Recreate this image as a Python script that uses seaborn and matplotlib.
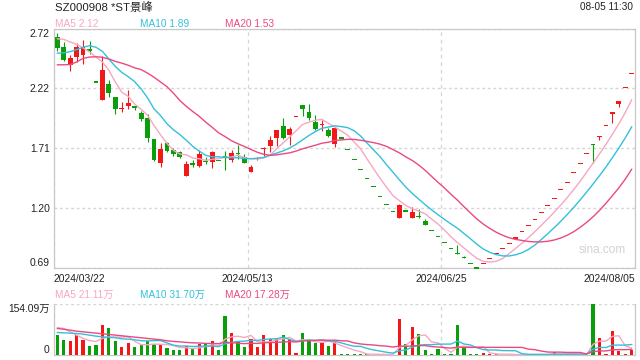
import numpy as np
import pandas as pd
import matplotlib
matplotlib.use("Agg")
import matplotlib.pyplot as plt
import seaborn as sns

# ---- data (90 trading days) ----
date_labels = ['2024/03/22', '2024/05/13', '2024/06/25', '2024/08/05']
price_ticks = [0.69, 1.20, 1.71, 2.22, 2.72]
vol_top = 154.09

opens = [2.655, 2.566, 2.416, 2.482, 2.497, 2.554, 2.27, 2.119, 2.257, 2.145,
         2.045, 2.064, 2.067, 2.007, 1.96, 1.782, 1.583, 1.753, 1.695, 1.673,
         1.471, 1.583, 1.56, 1.598, 1.592, 1.608, 1.638, 1.609, 1.667, 1.63,
         1.505, 1.615, 1.70, 1.725, 1.794, 1.897, 1.817, 1.975, 2.076, 2.013,
         1.926, 1.905, 1.86, 1.745, 1.794, 1.699, 1.612, 1.526, 1.448, 1.379,
         1.301, 1.232, 1.172, 1.116, 1.176, 1.116, 1.133, 1.088, 1.007, 0.955,
         0.904, 0.852, 0.82, 0.781, 0.731, 0.69, 0.725, 0.774, 0.815, 0.852,
         0.895, 0.945, 0.998, 1.052, 1.105, 1.164, 1.221, 1.282, 1.355, 1.42,
         1.50, 1.578, 1.664, 1.745, 1.80, 1.903, 2.0, 2.082, 2.226, 2.341]
highs = [2.684, 2.61, 2.497, 2.60, 2.626, 2.618, 2.27, 2.49, 2.289, 2.145,
         2.10, 2.203, 2.07, 2.027, 1.996, 1.782, 1.753, 1.76, 1.713, 1.684,
         1.603, 1.609, 1.69, 1.63, 1.687, 1.608, 1.687, 1.693, 1.736, 1.658,
         1.563, 1.63, 1.716, 1.808, 1.86, 1.961, 1.889, 1.975, 2.076, 2.082,
         1.989, 1.946, 1.88, 1.889, 1.794, 1.699, 1.612, 1.526, 1.448, 1.379,
         1.301, 1.232, 1.172, 1.234, 1.176, 1.211, 1.189, 1.102, 1.007, 0.955,
         0.904, 0.852, 0.889, 0.79, 0.731, 0.69, 0.725, 0.774, 0.815, 0.852,
         0.895, 0.945, 0.998, 1.052, 1.105, 1.164, 1.221, 1.282, 1.355, 1.42,
         1.50, 1.578, 1.664, 1.745, 1.815, 1.903, 2.012, 2.11, 2.226, 2.341]
lows = [2.534, 2.45, 2.36, 2.44, 2.425, 2.511, 2.27, 2.116, 2.145, 2.00,
        2.013, 2.041, 2.03, 1.94, 1.76, 1.603, 1.552, 1.675, 1.644, 1.626,
        1.469, 1.544, 1.544, 1.572, 1.543, 1.604, 1.523, 1.59, 1.615, 1.58,
        1.505, 1.61, 1.644, 1.673, 1.725, 1.788, 1.736, 1.975, 1.984, 1.946,
        1.86, 1.851, 1.80, 1.716, 1.794, 1.699, 1.612, 1.526, 1.448, 1.379,
        1.301, 1.232, 1.172, 1.116, 1.172, 1.116, 1.111, 1.059, 1.007, 0.955,
        0.904, 0.852, 0.812, 0.776, 0.731, 0.69, 0.725, 0.774, 0.815, 0.852,
        0.895, 0.945, 0.998, 1.052, 1.105, 1.164, 1.221, 1.282, 1.355, 1.42,
        1.50, 1.578, 1.664, 1.586, 1.773, 1.903, 1.923, 2.056, 2.226, 2.341]
closes = [2.56, 2.456, 2.473, 2.566, 2.566, 2.534, 2.27, 2.376, 2.179, 2.041,
          2.049, 2.093, 2.05, 1.955, 1.79, 1.609, 1.704, 1.684, 1.661, 1.632,
          1.574, 1.569, 1.655, 1.588, 1.678, 1.604, 1.63, 1.667, 1.658, 1.58,
          1.549, 1.625, 1.712, 1.773, 1.86, 1.794, 1.874, 1.975, 2.041, 1.961,
          1.874, 1.91, 1.808, 1.88, 1.794, 1.699, 1.612, 1.526, 1.448, 1.379,
          1.301, 1.232, 1.172, 1.226, 1.172, 1.166, 1.128, 1.059, 1.007, 0.955,
          0.904, 0.852, 0.814, 0.777, 0.731, 0.69, 0.725, 0.774, 0.815, 0.852,
          0.895, 0.945, 0.998, 1.052, 1.105, 1.164, 1.221, 1.282, 1.355, 1.42,
          1.50, 1.578, 1.664, 1.738, 1.815, 1.903, 2.012, 2.105, 2.226, 2.341]

ma5 = [2.637, 2.632, 2.61, 2.59, 2.56, 2.525, 2.482, 2.44, 2.37, 2.27,
       2.183, 2.148, 2.082, 2.038, 1.987, 1.899, 1.822, 1.748, 1.69, 1.658,
       1.651, 1.624, 1.618, 1.604, 1.613, 1.619, 1.631, 1.633, 1.647, 1.628,
       1.617, 1.616, 1.625, 1.648, 1.704, 1.753, 1.803, 1.855, 1.909, 1.929,
       1.945, 1.952, 1.919, 1.887, 1.853, 1.818, 1.759, 1.702, 1.616, 1.533,
       1.453, 1.377, 1.306, 1.262, 1.221, 1.194, 1.173, 1.15, 1.106, 1.063,
       1.011, 0.955, 0.906, 0.86, 0.815, 0.772, 0.747, 0.74, 0.747, 0.771,
       0.812, 0.856, 0.901, 0.948, 0.999, 1.053, 1.108, 1.165, 1.225, 1.288,
       1.356, 1.427, 1.503, 1.58, 1.659, 1.74, 1.826, 1.915, 2.012, 2.12]
ma10 = [2.514, 2.518, 2.527, 2.545, 2.565, 2.578, 2.565, 2.53, 2.465, 2.402,
        2.351, 2.315, 2.272, 2.211, 2.134, 2.041, 1.985, 1.915, 1.864, 1.823,
        1.775, 1.723, 1.683, 1.647, 1.635, 1.635, 1.628, 1.626, 1.626, 1.62,
        1.618, 1.623, 1.629, 1.648, 1.666, 1.685, 1.709, 1.74, 1.778, 1.816,
        1.849, 1.877, 1.887, 1.898, 1.891, 1.882, 1.855, 1.811, 1.751, 1.693,
        1.636, 1.568, 1.504, 1.439, 1.377, 1.323, 1.275, 1.228, 1.184, 1.142,
        1.102, 1.064, 1.028, 0.983, 0.939, 0.892, 0.851, 0.823, 0.804, 0.793,
        0.792, 0.802, 0.82, 0.848, 0.885, 0.933, 0.982, 1.033, 1.087, 1.144,
        1.204, 1.268, 1.334, 1.403, 1.474, 1.548, 1.627, 1.709, 1.796, 1.89]
ma20 = [2.416, 2.416, 2.418, 2.44, 2.47, 2.482, 2.484, 2.48, 2.465, 2.445,
        2.43, 2.412, 2.39, 2.375, 2.345, 2.31, 2.27, 2.23, 2.175, 2.112,
        2.063, 2.019, 1.978, 1.929, 1.885, 1.838, 1.806, 1.771, 1.745, 1.722,
        1.697, 1.673, 1.656, 1.647, 1.651, 1.66, 1.668, 1.683, 1.702, 1.718,
        1.733, 1.75, 1.758, 1.773, 1.778, 1.783, 1.782, 1.775, 1.765, 1.755,
        1.742, 1.723, 1.696, 1.668, 1.634, 1.603, 1.565, 1.519, 1.468, 1.417,
        1.369, 1.316, 1.266, 1.211, 1.158, 1.107, 1.063, 1.026, 0.994, 0.968,
        0.947, 0.933, 0.924, 0.915, 0.912, 0.912, 0.917, 0.928, 0.945, 0.968,
        0.998, 1.035, 1.077, 1.125, 1.179, 1.24, 1.304, 1.371, 1.445, 1.53]

volume = [60.2, 44.9, 41.9, 60.2, 44.9, 26.6, 29.7, 90.8, 82.5, 41.9,
          23.5, 36.7, 23.5, 29.7, 41.9, 32.7, 32.7, 20.5, 14.4, 14.4,
          26.6, 20.5, 32.7, 32.7, 41.9, 14.4, 118.3, 66.3, 41.9, 23.5,
          47.0, 23.5, 60.2, 47.0, 51.0, 60.2, 47.0, 6.1, 66.3, 44.9,
          35.8, 36.7, 26.6, 39.7, 3.0, 3.0, 2.0, 3.0, 2.0, 1.5,
          1.5, 1.0, 1.0, 109.0, 32.7, 84.6, 63.3, 14.4, 3.0, 17.4,
          3.0, 3.0, 90.8, 20.5, 3.0, 3.0, 5.0, 2.0, 2.0, 1.0,
          1.0, 1.0, 1.0, 1.0, 1.5, 2.0, 2.0, 10.0, 1.5, 2.0,
          2.0, 1.5, 1.5, 154.09, 50.0, 3.0, 72.4, 11.3, 2.0, 16.5]
vol_ma5 = [83, 80, 70, 60, 50.4, 43.7, 40.7, 50.4, 54.9, 54.3,
           53.7, 55.1, 41.6, 31.1, 31.1, 32.9, 32.1, 31.5, 28.4, 22.9,
           21.7, 19.3, 21.7, 25.4, 30.9, 28.4, 48, 54.7, 56.6, 52.9,
           59.4, 40.4, 39.2, 40.2, 45.7, 48.4, 53.1, 42.3, 46.1, 44.9,
           40, 38, 42.1, 36.7, 28.4, 21.8, 14.9, 10.1, 2.6, 2.3,
           2, 1.8, 1.4, 22.8, 29, 45.7, 58.1, 60.8, 39.6, 36.5,
           20.2, 8.2, 23.4, 26.9, 24.1, 24.1, 24.5, 6.7, 3, 2.6,
           2.2, 1.4, 1.2, 1, 1.1, 1.3, 1.5, 3.3, 3.4, 3.5,
           3.5, 3.4, 1.7, 32.2, 41.8, 42, 56.2, 58.2, 27.7, 21.11]
vol_ma10 = [68, 67, 66, 65, 63, 60, 57, 55, 53, 52.4,
            48.7, 47.9, 46, 43, 42.7, 43.3, 43.6, 36.6, 29.8, 27,
            27.3, 25.7, 26.6, 26.9, 26.9, 25.1, 33.6, 38.2, 41, 41.9,
            43.9, 44.2, 47, 48.4, 49.3, 53.9, 46.8, 40.7, 43.2, 45.3,
            44.2, 45.5, 42.2, 41.4, 36.6, 30.9, 26.4, 26.1, 19.7, 15.3,
            11.9, 8.3, 5.8, 12.7, 15.7, 23.8, 30, 31.1, 31.2, 32.8,
            32.9, 33.1, 42.1, 33.3, 30.3, 22.1, 16.3, 15.1, 15, 13.3,
            13.1, 12.9, 4, 2, 1.9, 1.8, 1.5, 2.3, 2.2, 2.3,
            2.4, 2.5, 2.5, 17.8, 22.7, 22.8, 29.8, 29.9, 30, 31.70]
vol_ma20 = [80, 78, 75, 72, 70, 68, 66, 64, 62, 60,
            58, 56, 54, 52, 50, 48, 46, 43, 41, 39.7,
            38, 36.8, 36.3, 34.9, 34.8, 34.2, 38.6, 37.4, 35.4, 34.4,
            35.6, 35, 36.8, 37.7, 38.1, 39.5, 40.2, 39.5, 42.1, 43.6,
            44.1, 44.9, 44.6, 44.9, 43, 42.4, 36.6, 33.4, 31.4, 30.3,
            28.1, 26.9, 24, 27.1, 26.2, 27.4, 28.2, 28.6, 25.4, 24.1,
            22.4, 20.7, 23.9, 23, 23, 23, 23.1, 23.1, 23.1, 23.1,
            23, 23, 23, 17.6, 16.1, 11.9, 8.9, 8.7, 8.6, 7.8,
            7.8, 7.7, 3.2, 9.9, 12.3, 12.3, 15.6, 16.1, 16.1, 17.28]

RED = '#f21818'
GREEN = '#0a9e0a'
C_MA5 = '#f8a6c2'
C_MA10 = '#33c0dc'
C_MA20 = '#ea4a7f'
GRID = '#d6d6d6'
EDGE = '#c8c8c8'
TXT = '#222222'

sns.set_style('white')
plt.rcParams['font.family'] = ['Liberation Sans', 'Noto Sans CJK SC', 'DejaVu Sans']

df = pd.DataFrame({'open': opens, 'high': highs, 'low': lows, 'close': closes,
                   'vol': volume, 'ma5': ma5, 'ma10': ma10, 'ma20': ma20,
                   'vma5': vol_ma5, 'vma10': vol_ma10, 'vma20': vol_ma20})
df['x'] = np.arange(len(df))
up = (df['close'] > df['open']) | ((df['close'] == df['open']) & (df['close'] >= df['close'].shift(1)))
df['dir'] = np.where(up, 'up', 'down')
df['color'] = np.where(up, RED, GREEN)

W, H = 640, 360
fig = plt.figure(figsize=(6.4, 3.6), dpi=100)
ax = fig.add_axes([54 / W, 1 - 268 / H, 581 / W, 239 / H])
axv = fig.add_axes([54 / W, 1 - 355 / H, 581 / W, 51 / H])

# ---- candles ----
body_lo = np.minimum(df['open'], df['close'])
body_h = (df['close'] - df['open']).abs()
min_h = 0.009
flat = body_h < min_h
bottom = np.where(flat, (df['open'] + df['close']) / 2 - min_h / 2, body_lo)
height = np.where(flat, min_h, body_h)
ax.vlines(df['x'], df['low'], df['high'], colors=df['color'], lw=0.8, zorder=3)
ax.bar(df['x'], height, bottom=bottom, width=0.74, color=df['color'],
       linewidth=0, zorder=4, clip_on=False)

for col, c in [('ma5', C_MA5), ('ma10', C_MA10), ('ma20', C_MA20)]:
    sns.lineplot(data=df, x='x', y=col, color=c, lw=1.0, ax=ax, legend=False, zorder=5)

ax.set_xlim(-0.5, len(df) - 0.5)
ax.set_ylim(price_ticks[0], price_ticks[-1])
ax.set_xlabel('')
ax.set_ylabel('')
ax.set_yticks(price_ticks)
ax.set_yticklabels(['%.2f' % t for t in price_ticks])
ylabs = ax.get_yticklabels()
ylabs[0].set_va('bottom')
ylabs[-1].set_va('top')
n = len(df)
xt = [-0.5, -0.5 + n / 3, -0.5 + 2 * n / 3, n - 0.5]
ax.set_xticks(xt)
ax.set_xticklabels(date_labels)
xlabs = ax.get_xticklabels()
xlabs[0].set_ha('left')
xlabs[-1].set_ha('right')
ax.tick_params(axis='both', length=0, labelsize=7.4, colors=TXT)
ax.tick_params(axis='y', pad=3)
ax.tick_params(axis='x', pad=4)
ax.grid(axis='y', color=GRID, ls=(0, (2, 2)), lw=1.0)
ax.grid(axis='x', color=GRID, ls=(0, (3, 3)), lw=0.9)
for s in ax.spines.values():
    s.set_color(EDGE)
    s.set_linewidth(0.9)
    s.set_visible(True)

ax.text(0.985, 0.075, 'sina.com', transform=ax.transAxes, ha='right', va='center',
        fontsize=8.5, color='#d2d2d2')

# ---- volume ----
sns.barplot(data=df, x='x', y='vol', hue='dir', palette={'up': RED, 'down': GREEN},
            dodge=False, width=0.5, saturation=1, errorbar=None, legend=False,
            native_scale=True, ax=axv, linewidth=0, zorder=3)
for col, c in [('vma5', C_MA5), ('vma10', C_MA10), ('vma20', C_MA20)]:
    sns.lineplot(data=df, x='x', y=col, color=c, lw=1.0, ax=axv, legend=False, zorder=5)
axv.set_xlim(-0.5, n - 0.5)
axv.set_ylim(0, vol_top)
axv.set_xlabel('')
axv.set_ylabel('')
axv.set_xticks(xt)
axv.set_xticklabels([])
axv.set_yticks([0, vol_top])
axv.set_yticklabels(['0', '%.2f万' % vol_top])
vlabs = axv.get_yticklabels()
vlabs[0].set_va('bottom')
vlabs[1].set_va('top')
axv.tick_params(axis='both', length=0, labelsize=7.4, colors=TXT, pad=3)
axv.grid(axis='x', color=GRID, ls=(0, (3, 3)), lw=0.9)
axv.axhline(vol_top, color=GRID, ls=(0, (2, 2)), lw=1.0, zorder=1)
for name, s in axv.spines.items():
    s.set_color(EDGE)
    s.set_linewidth(0.9)
    s.set_visible(name != 'top')

# ---- header texts ----
def ftext(px, py, s, **kw):
    fig.text(px / W, 1 - py / H, s, va='center', **kw)

ftext(55, 7, 'SZ000908 *ST景峰', fontsize=8.2, color=TXT)
ftext(633, 7, '08-05 11:30', fontsize=7.2, color=TXT, ha='right')
ftext(55, 24, 'MA5 %.2f' % ma5[-1], fontsize=7.3, color=C_MA5)
ftext(140, 24, 'MA10 %.2f' % ma10[-1], fontsize=7.3, color=C_MA10)
ftext(225, 24, 'MA20 %.2f' % ma20[-1], fontsize=7.3, color=C_MA20)
ftext(55, 295, 'MA5 %.2f万' % vol_ma5[-1], fontsize=7.3, color=C_MA5)
ftext(140, 295, 'MA10 %.2f万' % vol_ma10[-1], fontsize=7.3, color=C_MA10)
ftext(225, 295, 'MA20 %.2f万' % vol_ma20[-1], fontsize=7.3, color=C_MA20)

fig.savefig('out.png', dpi=100)
